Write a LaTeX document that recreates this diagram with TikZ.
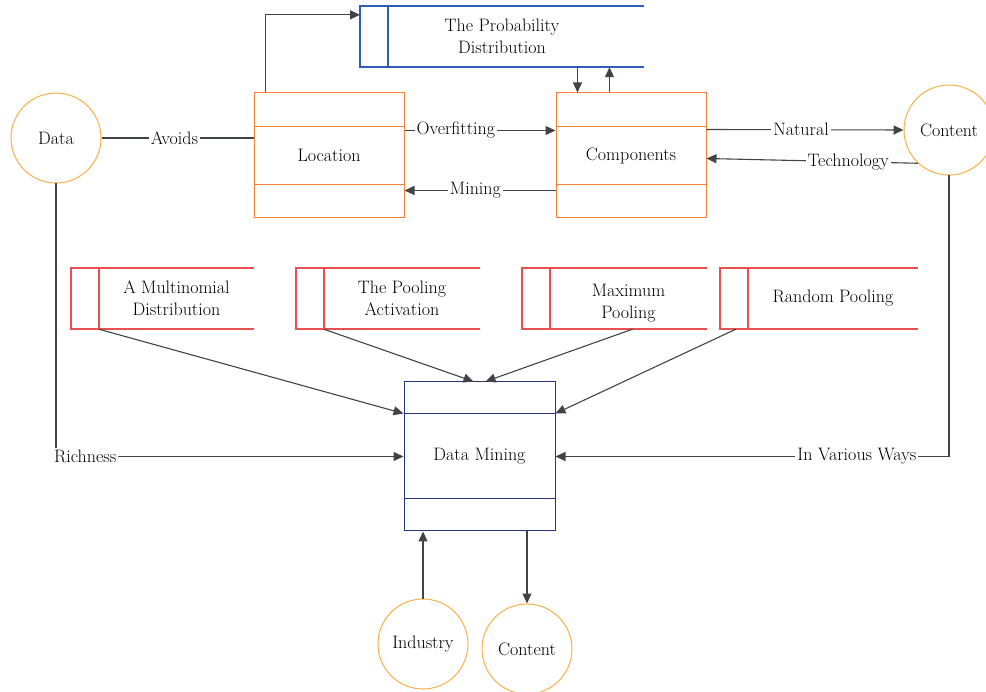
\documentclass[tikz,border=0pt]{standalone}
\usepackage{tikz}
\usetikzlibrary{positioning, arrows.meta, calc}

\definecolor{boxorange}{HTML}{F4803A}
\definecolor{circorange}{HTML}{F7B04A}
\definecolor{storeblue}{HTML}{2F5FB5}
\definecolor{storered}{HTML}{E8514F}
\definecolor{dmnavy}{HTML}{25357A}
\definecolor{linegray}{HTML}{404448}

\begin{document}
\begin{tikzpicture}[
    x=1pt, y=-1pt,
    every node/.style={font=\fontsize{18}{22}\selectfont},
    process/.style={rectangle, draw=boxorange, line width=1pt, minimum width=150pt,
                    minimum height=125pt, inner sep=0pt},
    entity/.style={circle, draw=circorange, line width=1pt, minimum size=90pt, inner sep=0pt},
    store/.style={rectangle, minimum height=61pt, inner sep=0pt},
    storetext/.style={align=center, inner sep=0pt},
    redframe/.style={draw=storered, line width=1.5pt},
    blueframe/.style={draw=storeblue, line width=1.5pt},
    arrow/.style={-{Triangle[length=10pt, width=9pt]}, draw=linegray, line width=1.1pt},
    link/.style={draw=linegray, line width=1.1pt},
    lbl/.style={fill=white, inner sep=2pt}
]
    \useasboundingbox (0,0) rectangle (986,692);

    % Data stores (frames first, text after)
    \node[store, minimum width=228pt] (prob) at (502,36.5) {};
    \node[store, minimum width=155pt] (multi) at (176.5,298.5) {};
    \node[store, minimum width=156pt] (pool) at (402,298.5) {};
    \node[store, minimum width=157pt] (maxp) at (628.5,298.5) {};
    \node[store, minimum width=170pt] (randp) at (833,298.5) {};

    \draw[blueframe] ([xshift=28pt]prob.north east) -- ([xshift=-28pt]prob.north west)
        -- ([xshift=-28pt]prob.south west) -- ([xshift=28pt]prob.south east);
    \draw[blueframe] (prob.north west) -- (prob.south west);
    \foreach \s in {multi, pool, maxp, randp} {
        \draw[redframe] (\s.north east) -- ([xshift=-28pt]\s.north west)
            -- ([xshift=-28pt]\s.south west) -- (\s.south east);
        \draw[redframe] (\s.north west) -- (\s.south west);
    }

    \node[storetext] (probtxt) at (prob) {The Probability\\Distribution};
    \node[storetext] (multitxt) at (multi) {A Multinomial\\Distribution};
    \node[storetext] (pooltxt) at (pool) {The Pooling\\Activation};
    \node[storetext] (maxptxt) at ([yshift=-5pt]maxp.center) {Maximum\\Pooling};
    \node[storetext] (randptxt) at (randp) {Random Pooling};

    % External entities
    \node[entity] (data) at (56,138) {Data};
    \node[entity] (ctop) at (949,130) {Content};
    \node[entity] (ind) at (423,644) {Industry};
    \node[entity] (cbot) at (527,649) {Content};

    % Processes
    \node[process] (loc) at (329,155.5) {Location};
    \node[process] (comp) at (631,155.5) {Components};
    \node[process, draw=dmnavy, minimum width=151pt, minimum height=149pt] (dm) at (479.5,456.5) {Data Mining};
    \foreach \p in {loc, comp} {
        \draw[draw=boxorange, line width=1pt] ([yshift=-34pt]\p.north west) -- ([yshift=-34pt]\p.north east);
        \draw[draw=boxorange, line width=1pt] ([yshift=34pt]\p.south west) -- ([yshift=34pt]\p.south east);
    }
    \draw[draw=dmnavy, line width=1pt] ([yshift=-32pt]dm.north west) -- ([yshift=-32pt]dm.north east);
    \draw[draw=dmnavy, line width=1pt] ([yshift=33pt]dm.south west) -- ([yshift=33pt]dm.south east);

    % Flows
    \draw[link] (data.east) -- node[lbl, pos=0.48] {Avoids} (data.east -| loc.west);
    \draw[arrow] ([xshift=12pt]loc.north west) |- ([yshift=-9pt]prob.north west -| 360,0);
    \draw[arrow] ([xshift=22pt]comp.north west |- prob.south) -- ([xshift=22pt]comp.north west);
    \draw[arrow] ([xshift=54pt]comp.north west) -- ([xshift=54pt]comp.north west |- prob.south);
    \draw[arrow] ([yshift=-38pt]loc.north east) -- node[lbl, pos=0.34] {Overfitting} ([yshift=-38pt]comp.north west);
    \draw[arrow] ([yshift=-98pt]comp.north west) -- node[lbl, pos=0.53] {Mining} ([yshift=-98pt]loc.north east);
    \draw[arrow] ([yshift=-37pt]comp.north east) -- node[lbl, pos=0.48] {Natural} (ctop.west);
    \draw[arrow] (ctop.227) -- node[lbl, pos=0.33] {Technology} ([yshift=-66pt]comp.north east);
    \draw[arrow] (ctop.south) |- node[lbl, pos=0.617] {In Various Ways} (dm.east);
    \draw[arrow] (data.south) |- node[lbl, pos=0.542] {Richness} (dm.west);

    \draw[arrow] (multi.south west) -- ([yshift=-32pt]dm.north west);
    \draw[arrow] (pool.south west) -- ([xshift=-6pt]dm.north);
    \draw[arrow] ([xshift=4pt]maxp.south) -- ([xshift=6pt]dm.north);
    \draw[arrow] ([xshift=-12pt]randp.south west) -- ([yshift=-32pt]dm.north east);

    \draw[arrow] (ind.north) -- (ind.north |- dm.south);
    \draw[arrow] (cbot.north |- dm.south) -- (cbot.north);

\end{tikzpicture}
\end{document}
